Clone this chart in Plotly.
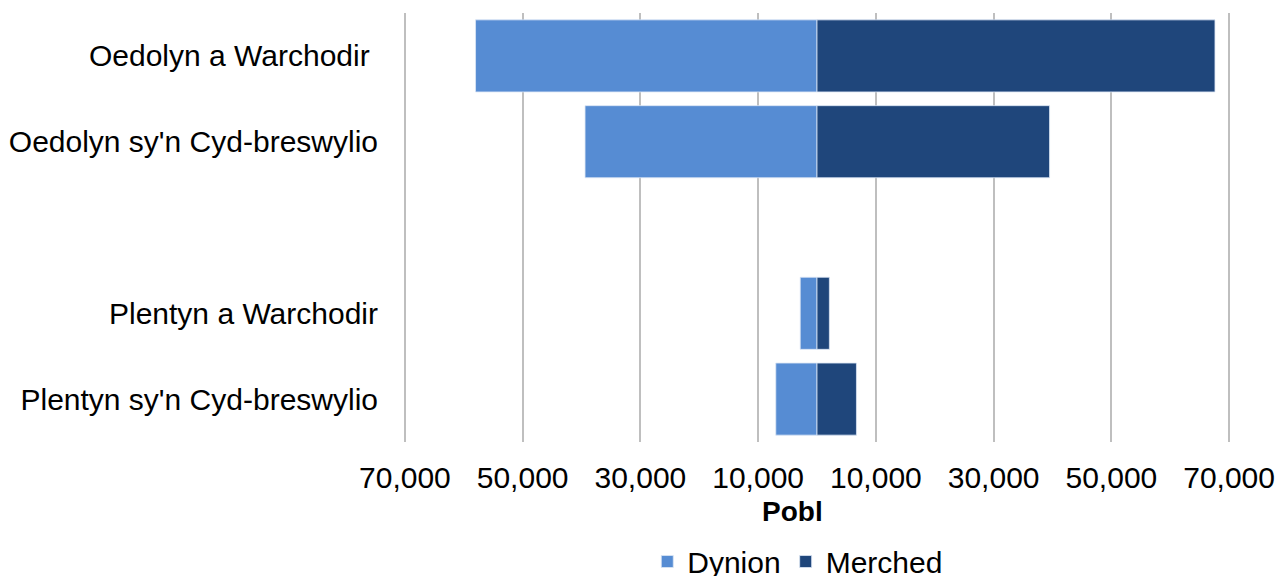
import plotly.graph_objects as go

categories = ["Oedolyn a Warchodir\u00a0", "Oedolyn sy'n Cyd-breswylio", "\u2002",
              "Plentyn a Warchodir", "Plentyn sy'n Cyd-breswylio"]
dynion = [58000, 39400, None, 2850, 7000]
merched = [67600, 39500, None, 2100, 6700]
tick_vals = [-70000, -50000, -30000, -10000, 10000, 30000, 50000, 70000]
tick_text = ["70,000", "50,000", "30,000", "10,000", "10,000", "30,000", "50,000", "70,000"]

FONT = "Liberation Sans, Arial, sans-serif"
C_DYN = "#568CD3"
C_MER = "#1F467B"

# page body has an 8px default margin, so the figure is drawn 8px smaller/offset
W, H = 1276, 568
L, R, T, B = 391, 49, 5, 134
plot_h = H - T - B

fig = go.Figure()
fig.add_trace(go.Bar(
    y=categories, x=[-v if v is not None else None for v in dynion],
    orientation="h", name="Dynion",
    marker=dict(color=C_DYN, line=dict(color="rgba(220,230,245,0.8)", width=1)),
))
fig.add_trace(go.Bar(
    y=categories, x=merched,
    orientation="h", name="Merched",
    marker=dict(color=C_MER, line=dict(color="rgba(220,230,245,0.8)", width=1)),
))

fig.update_layout(
    width=W, height=H,
    margin=dict(l=L, r=R, t=T, b=B, autoexpand=False),
    barmode="relative", bargap=0.16,
    paper_bgcolor="white", plot_bgcolor="white",
    font=dict(family=FONT, size=30, color="#000000"),
    showlegend=True,
    legend=dict(orientation="h", x=0.477, xanchor="center", y=-0.218, yanchor="top",
                font=dict(size=30), itemwidth=30, traceorder="normal"),
    xaxis=dict(range=[-71000, 71000], tickvals=tick_vals, ticktext=tick_text,
               showgrid=True, gridcolor="#BFBFBF", gridwidth=1.5,
               zeroline=False, showline=False, ticks="", automargin=False,
               ticklabelstandoff=15, tickfont=dict(size=30)),
    yaxis=dict(categoryorder="array", categoryarray=categories, autorange="reversed",
               showgrid=False, zeroline=False, showline=False, ticks="", automargin=False,
               ticklabelstandoff=20, tickfont=dict(size=30)),
    annotations=[dict(text="<b>Pobl</b>", xref="paper", yref="paper",
                      x=(792 - 8 - L) / (W - L - R), y=-(511 - 442) / plot_h,
                      xanchor="center", yanchor="middle",
                      showarrow=False, font=dict(size=28))],
)

fig.write_html("out.html")
